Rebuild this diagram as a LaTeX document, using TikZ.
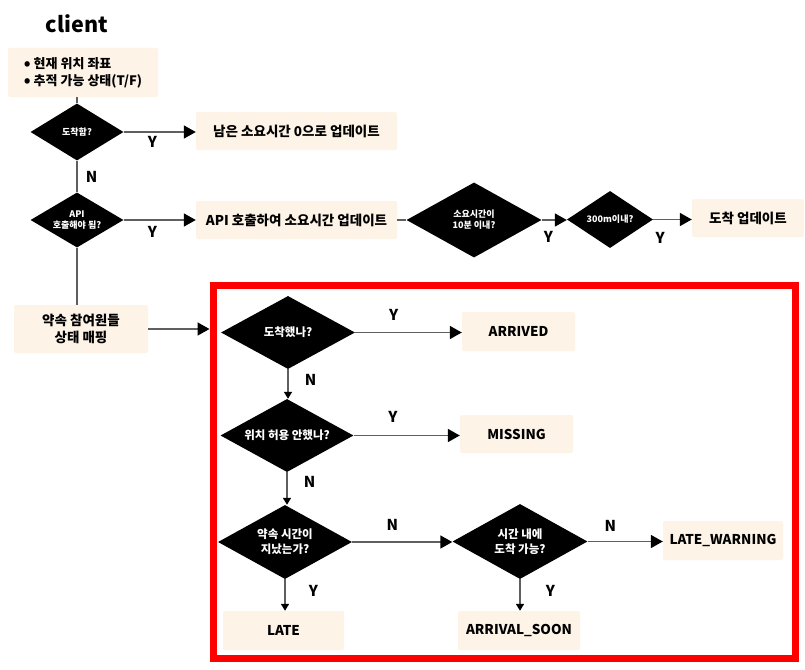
\documentclass[tikz,border=0pt]{standalone}
\usepackage{fontspec}
\setmainfont{Noto Sans CJK KR}
\usetikzlibrary{arrows.meta}
\usetikzlibrary{positioning}
\usetikzlibrary{shapes.geometric}
\definecolor{cream}{RGB}{253,243,231}
\definecolor{linegray}{RGB}{95,95,95}
\tikzset{>={Triangle[length=12pt,width=13pt,color=black]}}
\tikzset{
    box/.style={fill=cream, rounded corners=2pt, inner sep=0pt, font=\bfseries\fontsize{13.5}{17}\selectfont},
    dia/.style={diamond, fill=black, text=white, inner sep=0pt, aspect=1.8, align=center, font=\bfseries\fontsize{9}{11}\selectfont},
    bigdia/.style={dia, font=\bfseries\fontsize{11.5}{15}\selectfont},
    yn/.style={inner sep=0pt, font=\bfseries\fontsize{15}{15}\selectfont},
    conn/.style={draw=linegray, line width=1.6pt},
    small tip/.style={-{Triangle[length=7pt,width=8pt,color=black]}},
}
\newcommand{\bull}{{\fontsize{17}{10}\selectfont\raisebox{-1.5pt}{•}}\hspace{3pt}}

\begin{document}
\begin{tikzpicture}[x=1pt, y=-1pt]
		\useasboundingbox (0,0) rectangle (805,669);
		% client side
		\node[font=\bfseries\fontsize{21.5}{22}\selectfont] (title) at (77,24) {client};
		\node[box, minimum width=150pt, minimum height=49pt, align=left, font=\bfseries\fontsize{13}{17}\selectfont] (info) at (83,72.5) {\bull 현재 위치 좌표\\\bull 추적 가능 상태(T/F)};
		\node[dia, minimum width=93pt, minimum height=57pt] (arrive) at (77,132) {도착함?};
		\node[dia, minimum width=93pt, minimum height=55pt] (api) at (77,220) {API\\호출해야 됨?};
		\node[dia, minimum width=135pt, minimum height=75pt] (tenmin) at (474,220) {소요시간이\\10분 이내?};
		\node[dia, minimum width=86pt, minimum height=57pt] (near) at (610,219.5) {300m이내?};
		\node[box, minimum width=201pt, minimum height=38pt] (zero) at (296.5,131) {남은 소요시간 0으로 업데이트};
		\node[box, minimum width=201pt, minimum height=38pt] (update) at (296.5,220) {API 호출하여 소요시간 업데이트};
		\node[box, minimum width=112pt, minimum height=38pt] (done) at (748,218) {도착 업데이트};
		\node[box, minimum width=134pt, minimum height=48pt, align=center] (map) at (81,329) {약속 참여원들\\상태 매핑};
		\draw[conn] (arrive.north) -- (arrive.north |- info.south);
		\draw[conn, ->] (arrive.east) -- (arrive.east -| zero.west) node[yn, pos=0.4, below=4pt] {Y};
		\draw[conn] (arrive.south) -- (api.north) node[yn, midway, right=8pt] {N};
		\draw[conn, ->] (api.east) -- (api.east -| update.west) node[yn, pos=0.4, below=5.5pt] {Y};
		\draw[conn] (update.east) -- (update.east -| tenmin.west);
		\draw[conn, ->] (tenmin.east) -- (tenmin.east -| near.west) node[yn, pos=0.27, below=11pt] {Y};
		\draw[conn, ->] (near.east) -- (near.east -| done.west) node[yn, pos=0.18, below=12pt] {Y};
		\draw[conn] (api.south) -- (api.south |- map.north);
		% participant states
		\node[draw=red, line width=7pt, minimum width=582pt, minimum height=373pt, inner sep=0pt] (frame) at (504,471.5) {};
		\draw[conn, ->] (map.east) -- (map.east -| frame.west);
		\node[bigdia, minimum width=134pt, minimum height=73pt] (arrived) at (288,332.5) {도착했나?};
		\node[bigdia, minimum width=133pt, minimum height=73pt] (allow) at (287,435.5) {위치 허용 안했나?};
		\node[bigdia, minimum width=134pt, minimum height=74pt] (late) at (285,542) {약속 시간이\\지났는가?};
		\node[bigdia, minimum width=135pt, minimum height=75pt] (soon) at (520,541.5) {시간 내에\\도착 가능?};
		\node[box, minimum width=113pt, minimum height=39pt] (sArrived) at (518.5,331.5) {ARRIVED};
		\node[box, minimum width=113pt, minimum height=38pt] (sMissing) at (516.5,434) {MISSING};
		\node[box, minimum width=121pt, minimum height=39pt] (sLate) at (283.5,630.5) {LATE};
		\node[box, minimum width=122pt, minimum height=39pt] (sSoon) at (519,630.5) {ARRIVAL\_SOON};
		\node[box, minimum width=120pt, minimum height=39pt] (sWarn) at (723,540.5) {LATE\_WARNING};
		\draw[conn, ->] (arrived.east) -- (arrived.east -| sArrived.west) node[yn, pos=0.36, above=11pt] {Y};
		\draw[conn, small tip] (arrived.south) -- (arrived.south |- allow.north) node[yn, pos=0.35, right=16pt] {N};
		\draw[conn, ->] (allow.east) -- (allow.east -| sMissing.west) node[yn, pos=0.37, above=12pt] {Y};
		\draw[conn, small tip] (allow.south) -- (allow.south |- late.north) node[yn, pos=0.3, right=16pt] {N};
		\draw[conn, ->] (late.east) -- (late.east -| soon.west) node[yn, pos=0.4, above=11pt] {N};
		\draw[conn, ->] (soon.east) -- (soon.east -| sWarn.west) node[yn, pos=0.3, above=9pt] {N};
		\draw[conn, small tip] (late.south) -- (late.south |- sLate.north) node[yn, pos=0.37, right=23pt] {Y};
		\draw[conn, small tip] (soon.south) -- (soon.south |- sSoon.north) node[yn, pos=0.37, right=25pt] {Y};
\end{tikzpicture}
\end{document}
